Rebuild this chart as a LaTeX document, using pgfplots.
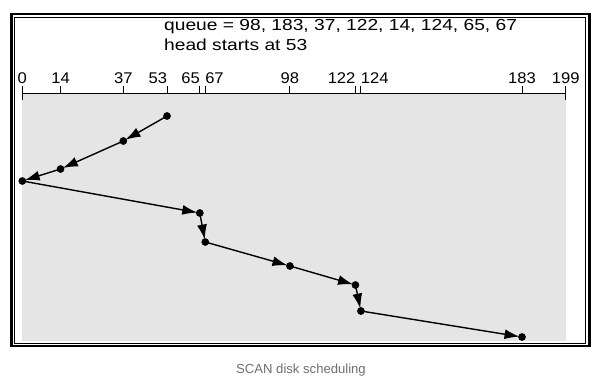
\documentclass[border=0pt]{standalone}
\usepackage{pgfplots}
\pgfplotsset{compat=1.18}
\usepackage{graphicx}
\usepackage{fontspec}
\setmainfont{Liberation Sans}
\usetikzlibrary{arrows.meta}
\definecolor{bgray}{RGB}{229,229,229}
\definecolor{capgray}{RGB}{110,110,110}
\newcommand\sx[1]{\scalebox{1.07}[1]{#1}}
\begin{document}
\begin{tikzpicture}
\path[use as bounding box] (0pt,0pt) rectangle (602pt,-390pt);
% frame
\draw[line width=2.5pt] (11.3pt,-14pt) rectangle (589.5pt,-346pt);
\draw[line width=0.9pt] (14.5pt,-17pt) rectangle (585.5pt,-343.5pt);
\begin{axis}[
  at={(22.3pt,-93.3pt)}, anchor=north west,
  scale only axis, width=543.4pt, height=248pt,
  xmin=0, xmax=199, ymin=93.3, ymax=341.3, y dir=reverse,
  axis x line=top, axis y line=none,
  x axis line style={-, line width=0.9pt},
  axis background/.style={fill=bgray},
  tick align=outside, major tick length=7pt,
  tick style={black, line width=0.9pt},
  xtick={14,37,53,65,67,98,122,124,183},
  xticklabels={\sx{14},\sx{37},\sx{53\phantom{53}},\sx{65\phantom{65}},\sx{\phantom{67}67},\sx{98},\sx{122\phantom{122}},\sx{\phantom{124}124},\sx{183}},
  extra x ticks={0,199},
  extra x tick labels={\sx{0},\sx{199}},
  extra x tick style={tick align=center, major tick length=14pt},
  xticklabel style={font=\fontsize{15.5}{17}\selectfont, inner sep=1pt, yshift=1.5pt},
  /pgf/number format/assume math mode=true,
  clip=false,
]
\addplot[black, line width=1.4pt, -{Latex[length=15pt,width=10pt]}, shorten >=2.5pt,
  quiver={u=\thisrow{u}, v=\thisrow{v}}] table {
x y u v
53 116 -16 25
37 141 -23 28
14 169 -14 12
0 181 65 32
65 213 2 29
67 242 31 24
98 266 24 19
122 285 2 26
124 311 59 26
};
\addplot[only marks, mark=*, mark size=3.6pt, black] table {
x y
53 116
37 141
14 169
0 181
65 213
67 242
98 266
122 285
124 311
183 337
};
\end{axis}
\node[anchor=west, inner sep=0pt, font=\fontsize{16}{18}\selectfont] at (164pt,-26.5pt) {\scalebox{1.2}[1]{queue = 98, 183, 37, 122, 14, 124, 65, 67}};
\node[anchor=west, inner sep=0pt, font=\fontsize{16}{18}\selectfont] at (164pt,-45pt) {\scalebox{1.2}[1]{head starts at 53}};
\node[text=capgray, font=\fontsize{13.1}{15}\selectfont, inner sep=0pt] at (301pt,-370pt) {SCAN disk scheduling};
\end{tikzpicture}
\end{document}
